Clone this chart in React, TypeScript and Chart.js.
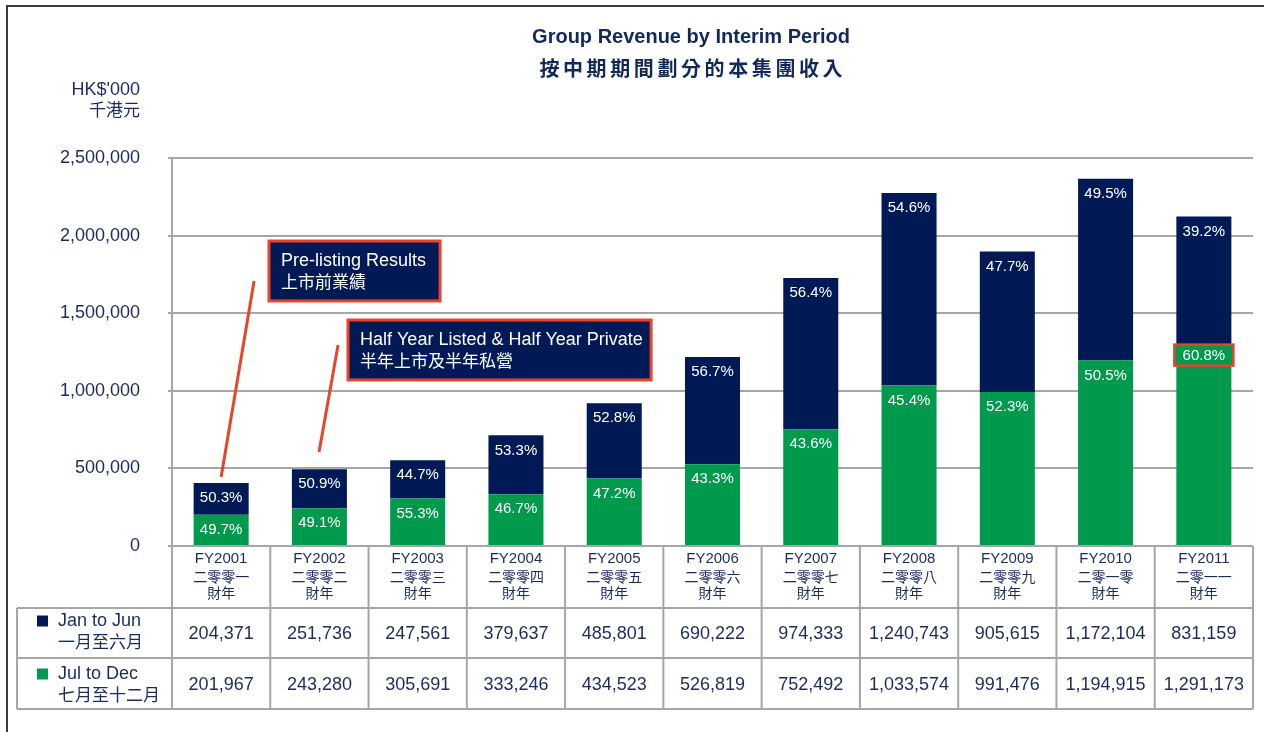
import React, { useEffect, useRef } from 'react';
import { Chart, registerables } from 'chart.js';

Chart.register(...registerables);

// ---------- data ----------
const categories = ['FY2001', 'FY2002', 'FY2003', 'FY2004', 'FY2005', 'FY2006', 'FY2007', 'FY2008', 'FY2009', 'FY2010', 'FY2011'];
const categoriesZh = ['二零零一', '二零零二', '二零零三', '二零零四', '二零零五', '二零零六', '二零零七', '二零零八', '二零零九', '二零一零', '二零一一'];
const fiscalYearZh = '財年';

const janJun = [204371, 251736, 247561, 379637, 485801, 690222, 974333, 1240743, 905615, 1172104, 831159];
const julDec = [201967, 243280, 305691, 333246, 434523, 526819, 752492, 1033574, 991476, 1194915, 1291173];

const janJunPct = ['50.3%', '50.9%', '44.7%', '53.3%', '52.8%', '56.7%', '56.4%', '54.6%', '47.7%', '49.5%', '39.2%'];
const julDecPct = ['49.7%', '49.1%', '55.3%', '46.7%', '47.2%', '43.3%', '43.6%', '45.4%', '52.3%', '50.5%', '60.8%'];
const julDecHighlight = [false, false, false, false, false, false, false, false, false, false, true];

const seriesNames = [
  { en: 'Jan to Jun', zh: '一月至六月' },
  { en: 'Jul to Dec', zh: '七月至十二月' },
];

const titleEn = 'Group Revenue by Interim Period';
const titleZh = '按中期期間劃分的本集團收入';
const unitEn = "HK$'000";
const unitZh = '千港元';

const yMax = 2500000;
const yStep = 500000;

// annotation callouts (in data coordinates: category index, value)
const calloutBoxes = [
  { lines: ['Pre-listing Results', '上市前業績'], x0: 0.487, x1: 2.228, yTop: 1965000, yBottom: 1579000 },
  { lines: ['Half Year Listed & Half Year Private', '半年上市及半年私營'], x0: 1.291, x1: 4.375, yTop: 1456000, yBottom: 1070000 },
];
const calloutLeaders = [
  { x0: 0.335, y0: 1707000, x1: 0.0, y1: 445000 },
  { x0: 1.19, y0: 1295000, x1: 0.996, y1: 606000 },
];

// ---------- style ----------
const FONT = '"Liberation Sans", Arial, "Noto Sans CJK TC", sans-serif';
const CJK = '"Noto Sans CJK TC", "Liberation Sans", sans-serif';
const NAVY = '#011a56';
const GREEN = '#009a4d';
const RED = '#e8432b';
const TEXT = '#1b2b5c';
const TITLE = '#10295a';
const GRID = '#a6a6a6';

const fmt = (v: number) => v.toLocaleString('en-US');

const labelPlugin = {
  id: 'pctLabels',
  afterDatasetsDraw(chart: any) {
    const ctx = chart.ctx;
    const pctSets = [julDecPct, janJunPct];
    chart.data.datasets.forEach((_ds: any, di: number) => {
      const meta = chart.getDatasetMeta(di);
      meta.data.forEach((bar: any, i: number) => {
        const { x, y, width } = bar.getProps(['x', 'y', 'width'], true);
        const hl = di === 0 && julDecHighlight[i];
        ctx.save();
        ctx.font = '15px ' + FONT;
        ctx.textAlign = 'center';
        ctx.textBaseline = 'middle';
        if (hl) {
          const w = width + 4;
          ctx.fillStyle = GREEN;
          ctx.fillRect(x - w / 2, y - 1, w, 21);
          ctx.strokeStyle = RED;
          ctx.lineWidth = 2.5;
          ctx.strokeRect(x - w / 2, y - 1, w, 21);
          ctx.fillStyle = '#ffffff';
          ctx.fillText(pctSets[di][i], x, y + 10);
        } else {
          ctx.fillStyle = '#ffffff';
          ctx.fillText(pctSets[di][i], x, y + 15);
        }
        ctx.restore();
      });
    });
  },
};

const decorPlugin = {
  id: 'decor',
  afterDraw(chart: any) {
    const ctx = chart.ctx;
    const xs = chart.scales.x;
    const ys = chart.scales.y;
    const area = chart.chartArea;
    const n = categories.length;
    const cx = (i: number) => xs.getPixelForValue(i);
    const half = (cx(1) - cx(0)) / 2;
    const bounds: number[] = [];
    for (let i = 0; i < n; i++) bounds.push(cx(i) - half);
    bounds.push(cx(n - 1) + half);

    ctx.save();

    // outer frame
    ctx.strokeStyle = '#3a3a3a';
    ctx.lineWidth = 2;
    ctx.beginPath();
    ctx.moveTo(7, chart.height);
    ctx.lineTo(7, 6);
    ctx.lineTo(chart.width, 6);
    ctx.stroke();

    // title
    ctx.fillStyle = TITLE;
    ctx.textBaseline = 'middle';
    ctx.textAlign = 'center';
    ctx.font = 'bold 20px ' + FONT;
    ctx.fillText(titleEn, 691, 37);
    ctx.font = 'bold 20px ' + CJK;
    const gap = 3.6;
    const chars = Array.from(titleZh);
    const widths = chars.map((c) => ctx.measureText(c).width);
    const total = widths.reduce((a, b) => a + b, 0) + gap * (chars.length - 1);
    let px = 691 - total / 2;
    ctx.textAlign = 'left';
    chars.forEach((c, k) => {
      ctx.fillText(c, px, 68);
      px += widths[k] + gap;
    });

    // unit labels
    ctx.fillStyle = TEXT;
    ctx.textAlign = 'right';
    ctx.font = '18px ' + FONT;
    ctx.fillText(unitEn, 140, 90);
    ctx.font = '17px ' + CJK;
    ctx.fillText(unitZh, 140, 110);

    // table
    const b = area.bottom;
    const headerBottom = b + 62;
    const row1Bottom = b + 112;
    const row2Bottom = b + 163;
    const tableLeft = 17;
    const tableRight = bounds[n];
    ctx.strokeStyle = GRID;
    ctx.lineWidth = 2;
    ctx.beginPath();
    bounds.forEach((bx) => {
      ctx.moveTo(bx, b);
      ctx.lineTo(bx, row2Bottom);
    });
    [headerBottom, row1Bottom, row2Bottom].forEach((yy) => {
      ctx.moveTo(tableLeft, yy);
      ctx.lineTo(tableRight, yy);
    });
    ctx.moveTo(tableLeft, headerBottom);
    ctx.lineTo(tableLeft, row2Bottom);
    ctx.stroke();

    // header labels
    ctx.fillStyle = TEXT;
    ctx.textAlign = 'center';
    for (let i = 0; i < n; i++) {
      ctx.font = '15px ' + FONT;
      ctx.fillText(categories[i], cx(i), b + 13);
      ctx.font = '14px ' + CJK;
      ctx.fillText(categoriesZh[i], cx(i), b + 31);
      ctx.fillText(fiscalYearZh, cx(i), b + 47);
    }

    // values
    ctx.font = '18px ' + FONT;
    for (let i = 0; i < n; i++) {
      ctx.fillText(fmt(janJun[i]), cx(i), b + 88);
      ctx.fillText(fmt(julDec[i]), cx(i), b + 139);
    }

    // legend column
    const legendColors = [NAVY, GREEN];
    const legendY = [b + 75, b + 128];
    ctx.textAlign = 'left';
    seriesNames.forEach((s, k) => {
      ctx.fillStyle = legendColors[k];
      ctx.fillRect(37, legendY[k] - 5.5, 11, 11);
      ctx.fillStyle = TEXT;
      ctx.font = '18px ' + FONT;
      ctx.fillText(s.en, 58, legendY[k]);
      ctx.font = '17px ' + CJK;
      ctx.fillText(s.zh, 58, legendY[k] + 21);
    });

    // callout leaders
    ctx.strokeStyle = RED;
    ctx.lineWidth = 3;
    calloutLeaders.forEach((l) => {
      ctx.beginPath();
      ctx.moveTo(xs.getPixelForValue(l.x0), ys.getPixelForValue(l.y0));
      ctx.lineTo(xs.getPixelForValue(l.x1), ys.getPixelForValue(l.y1));
      ctx.stroke();
    });

    // callout boxes
    calloutBoxes.forEach((c) => {
      const x0 = xs.getPixelForValue(c.x0);
      const x1 = xs.getPixelForValue(c.x1);
      const y0 = ys.getPixelForValue(c.yTop);
      const y1 = ys.getPixelForValue(c.yBottom);
      ctx.fillStyle = NAVY;
      ctx.fillRect(x0, y0, x1 - x0, y1 - y0);
      ctx.strokeStyle = RED;
      ctx.lineWidth = 3;
      ctx.strokeRect(x0, y0, x1 - x0, y1 - y0);
      ctx.fillStyle = '#ffffff';
      ctx.textAlign = 'left';
      ctx.font = '18px ' + FONT;
      ctx.fillText(c.lines[0], x0 + 12, y0 + 20);
      ctx.font = '17px ' + CJK;
      ctx.fillText(c.lines[1], x0 + 12, y0 + 41);
    });

    ctx.restore();
  },
};

export default function App() {
  const ref = useRef<HTMLCanvasElement | null>(null);

  useEffect(() => {
    if (!ref.current) return;
    const chart = new Chart(ref.current, {
      type: 'bar',
      data: {
        labels: categories,
        datasets: [
          {
            label: seriesNames[1].en,
            data: julDec,
            backgroundColor: GREEN,
            borderWidth: 0,
            barPercentage: 0.56,
            categoryPercentage: 1,
          },
          {
            label: seriesNames[0].en,
            data: janJun,
            backgroundColor: NAVY,
            borderWidth: 0,
            barPercentage: 0.56,
            categoryPercentage: 1,
          },
        ],
      },
      options: {
        responsive: false,
        animation: false,
        events: [],
        layout: { padding: { left: 0, top: 158, right: 11, bottom: 0 } },
        plugins: {
          legend: { display: false },
          title: { display: false },
          tooltip: { enabled: false },
        },
        scales: {
          x: {
            stacked: true,
            ticks: { display: false },
            grid: { display: false },
            border: { display: false },
            afterFit: (s: any) => {
              s.height = 186;
            },
          },
          y: {
            stacked: true,
            min: 0,
            max: yMax,
            ticks: {
              stepSize: yStep,
              padding: 28,
              color: TEXT,
              font: { family: FONT, size: 18 },
              callback: (v: any) => fmt(Number(v)),
            },
            grid: { color: GRID, lineWidth: 2, tickLength: 4, drawTicks: true },
            border: { display: true, color: GRID, width: 2 },
            afterFit: (s: any) => {
              s.width = 172;
            },
          },
        },
      },
      plugins: [labelPlugin, decorPlugin],
    });
    return () => chart.destroy();
  }, []);

  return (
    <div style={{ position: 'absolute', left: 0, top: 0, width: 1264, height: 732, background: '#fff' }}>
      <canvas ref={ref} width={1264} height={732} style={{ display: 'block' }} />
    </div>
  );
}
